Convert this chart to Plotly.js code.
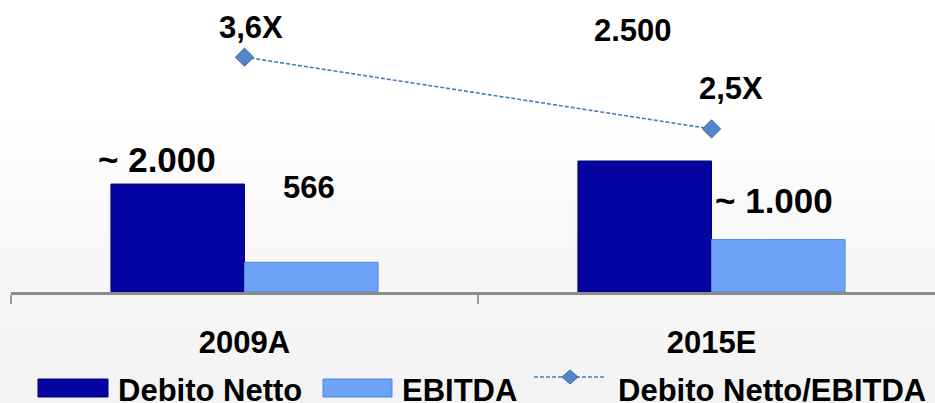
<!DOCTYPE html>
<html>
<head>
<meta charset="utf-8">
<script src="https://cdn.plot.ly/plotly-3.0.1.min.js"></script>
<style>
  html, body { margin: 0; padding: 0; background: #ffffff; }
  #chart {
    width: 935px; height: 403px;
    background: linear-gradient(to bottom, #ffffff 0%, #ffffff 30%, #fbfbfb 45%, #f7f7f7 65%, #f5f5f5 85%, #f3f3f3 100%);
  }
</style>
</head>
<body>
<div id="chart"></div>
<script>
// ---- data ----
const categories = ['2009A', '2015E'];
const debitoNetto = [2060, 2500];
const ebitda = [566, 1000];
const ratio = [3.6, 2.5];
const debitoLabels = ['~ 2.000', '2.500'];
const ebitdaLabels = ['566', '~ 1.000'];
const ratioLabels = ['3,6X', '2,5X'];
const seriesNames = ['Debito Netto', 'EBITDA', 'Debito Netto/EBITDA'];

// ---- layout helpers (pixel -> paper) ----
const W = 935, H = 403;
const px = x => x / W;
const py = y => 1 - y / H;
const FONT = 'Liberation Sans, Arial, Helvetica, sans-serif';
const DARK = '#0504a0';
const LIGHT = '#6ea2f7';
const LINEC = '#4a7cb8';

const traces = [
  {
    type: 'bar', name: seriesNames[0], x: categories, y: debitoNetto,
    marker: { color: DARK, line: { color: '#03037a', width: 1 } },
    showlegend: false, hoverinfo: 'none'
  },
  {
    type: 'bar', name: seriesNames[1], x: categories, y: ebitda,
    marker: { color: LIGHT, line: { color: '#4f86dc', width: 1 } },
    showlegend: false, hoverinfo: 'none'
  },
  {
    type: 'scatter', mode: 'lines+markers', name: seriesNames[2],
    x: categories, y: ratio, yaxis: 'y2',
    line: { color: LINEC, width: 1.6, dash: '4px,2px' },
    marker: { symbol: 'diamond', size: 14, color: '#5286c8', line: { color: '#3a66a0', width: 1 } },
    showlegend: false, hoverinfo: 'none', cliponaxis: false
  }
];

const labelFont = (s) => ({ family: FONT, size: s, color: '#000000', weight: 'bold' });
const annPos = {
  debito: [{ x: 157, y: 159, s: 35 }, { x: 632.5, y: 30.5, s: 31 }],
  ebitda: [{ x: 308.5, y: 188, s: 31 }, { x: 774, y: 201, s: 35 }],
  ratio:  [{ x: 250.5, y: 28, s: 31 }, { x: 731, y: 89, s: 31 }]
};
const annotations = [];
function addLabels(texts, pos) {
  texts.forEach((t, i) => {
    annotations.push({
      xref: 'paper', yref: 'paper', x: px(pos[i].x), y: py(pos[i].y),
      xanchor: 'center', yanchor: 'middle', text: t, showarrow: false,
      font: labelFont(pos[i].s)
    });
  });
}
addLabels(debitoLabels, annPos.debito);
addLabels(ebitdaLabels, annPos.ebitda);
addLabels(ratioLabels, annPos.ratio);

// custom legend
const legendText = [{ x: 116 }, { x: 400 }, { x: 616 }];
seriesNames.forEach((n, i) => {
  annotations.push({
    xref: 'paper', yref: 'paper', x: px(legendText[i].x), y: py(390),
    xanchor: 'left', yanchor: 'middle', text: n, showarrow: false,
    font: labelFont(31)
  });
});

const shapes = [
  { type: 'rect', xref: 'paper', yref: 'paper', x0: px(38), x1: px(108), y0: py(379), y1: py(397),
    fillcolor: DARK, line: { color: '#03037a', width: 1 } },
  { type: 'rect', xref: 'paper', yref: 'paper', x0: px(323), x1: px(392), y0: py(379), y1: py(397),
    fillcolor: LIGHT, line: { color: '#4f86dc', width: 1 } },
  { type: 'line', xref: 'paper', yref: 'paper', x0: px(534), x1: px(606), y0: py(377), y1: py(377),
    line: { color: LINEC, width: 1.6, dash: '4px,2px' } },
  { type: 'path', xref: 'paper', yref: 'paper',
    path: `M ${px(562)} ${py(377)} L ${px(570)} ${py(370)} L ${px(578)} ${py(377)} L ${px(570)} ${py(384)} Z`,
    fillcolor: '#5286c8', line: { color: '#3a66a0', width: 1 } }
];

const layout = {
  width: W, height: H,
  margin: { l: 0, r: 0, t: 0, b: 0, pad: 0 },
  paper_bgcolor: 'rgba(0,0,0,0)',
  plot_bgcolor: 'rgba(0,0,0,0)',
  barmode: 'group', bargap: 0.428, bargroupgap: 0,
  showlegend: false,
  hovermode: false,
  xaxis: {
    type: 'category', domain: [px(11), 1], range: [-0.5, 1.4786],
    tickson: 'boundaries', ticks: 'outside', ticklen: 9, tickwidth: 2, tickcolor: '#9a9a9a',
    showline: true, linecolor: '#8c8c8c', linewidth: 3,
    showgrid: false, zeroline: false,
    tickfont: labelFont(31), ticklabelstandoff: 21, fixedrange: true
  },
  yaxis: {
    domain: [py(292), 1], range: [0, 5572], visible: false, fixedrange: true
  },
  yaxis2: {
    overlaying: 'y', range: [0, 4.476], visible: false, fixedrange: true
  },
  annotations: annotations,
  shapes: shapes
};

Plotly.newPlot('chart', traces, layout, { displayModeBar: false, staticPlot: true });
</script>
</body>
</html>
